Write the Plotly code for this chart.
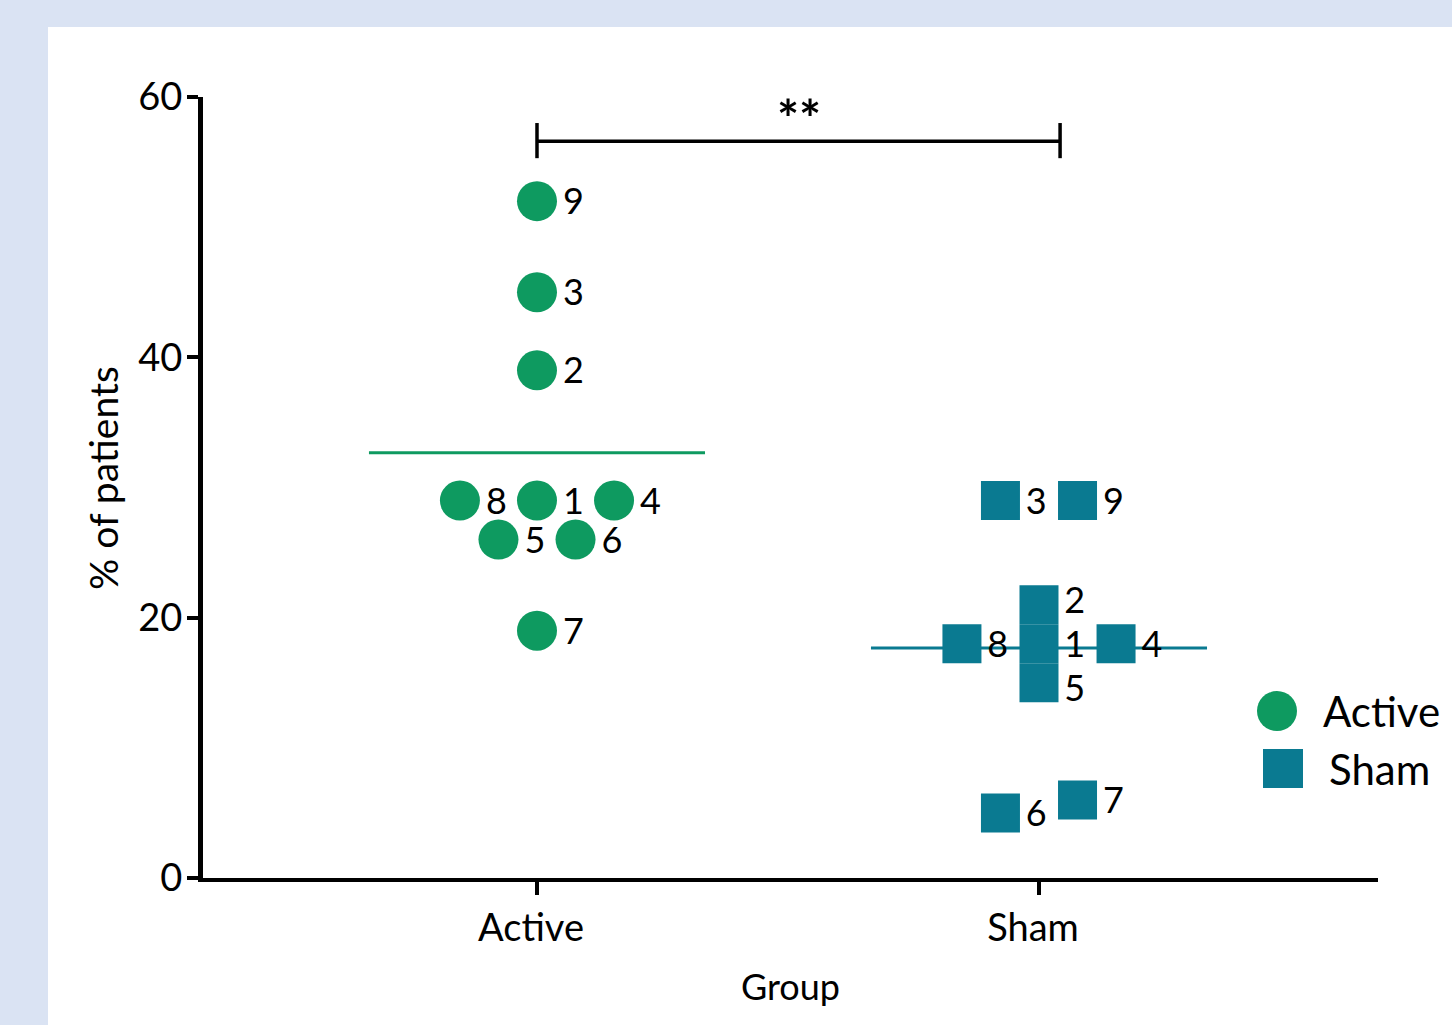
import plotly.graph_objects as go

# ---- data -------------------------------------------------------------
subject_ids = [1, 2, 3, 4, 5, 6, 7, 8, 9]
active_pct = [29, 39, 45, 29, 26, 26, 19, 29, 52]
sham_pct = [18, 21, 29, 18, 15, 5, 6, 18, 29]
group_names = ["Active", "Sham"]
y_ticks = [0, 20, 40, 60]
significance = "**"

# ---- style -------------------------------------------------------------
GREEN = "#0E9A60"
TEAL = "#0A7A91"
FONT = "Lato"
W, H = 1452, 1025
M_L, M_R, M_T, M_B = 203, 74, 97, 147
X_RANGE = [-0.6653, 1.6753]
STEP = 0.1535          # horizontal spacing between swarmed points
MEAN_HALF = 0.3347     # half width of the mean bar
PX_PER_UNIT = (H - M_T - M_B) / 60.0
LABEL_GAP = 44 / PX_PER_UNIT     # minimum vertical spacing of labels in one column
LABEL_DROP = 4 / PX_PER_UNIT     # optical centring of digits against markers


def swarm_offsets(values, ids, tol=1.5, step=STEP):
    """Fan out near-equal values: first centred, then right, then left..."""
    order = sorted(range(len(values)), key=lambda i: (values[i], ids[i]))
    bins = []
    for i in order:
        if bins and values[i] - values[bins[-1][0]] < tol:
            bins[-1].append(i)
        else:
            bins.append([i])
    offs = [0.0] * len(values)
    for b in bins:
        b = sorted(b, key=lambda i: ids[i])
        n = len(b)
        if n % 2:
            slots, k = [0.0], 1.0
            while len(slots) < n:
                slots += [k, -k]
                k += 1
        else:
            slots, k = [], 0.5
            while len(slots) < n:
                slots += [-k, k]
                k += 1
        for i, s in zip(b, slots[:n]):
            offs[i] = s * step
    return offs


def label_positions(values, offs, gap=LABEL_GAP):
    """Spread labels that share a column so they don't collide."""
    ys = [v - LABEL_DROP for v in values]
    cols = {}
    for i, o in enumerate(offs):
        cols.setdefault(round(o, 6), []).append(i)
    for idx in cols.values():
        idx.sort(key=lambda i: ys[i])
        for _ in range(50):
            moved = False
            for a, b in zip(idx, idx[1:]):
                d = ys[b] - ys[a]
                if d < gap - 1e-9:
                    push = (gap - d) / 2
                    ys[a] -= push
                    ys[b] += push
                    moved = True
            if not moved:
                break
    return ys


def px_x(p):
    return (p - M_L) / (W - M_L - M_R)


def px_y(p):
    return (H - M_B - p) / (H - M_T - M_B)


fig = go.Figure()

series = [
    (group_names[0], active_pct, GREEN, "circle", 40),
    (group_names[1], sham_pct, TEAL, "square", 39),
]
for gi, (name, vals, col, sym, size) in enumerate(series):
    offs = swarm_offsets(vals, subject_ids)
    xs = [gi + o for o in offs]
    mean = sum(vals) / len(vals)
    fig.add_trace(go.Scatter(
        x=[gi - MEAN_HALF, gi + MEAN_HALF], y=[mean, mean], mode="lines",
        line=dict(color=col, width=3), showlegend=False, hoverinfo="skip"))
    fig.add_trace(go.Scatter(
        x=xs, y=vals, mode="markers", name=name,
        marker=dict(symbol=sym, size=size, color=col, line=dict(width=0)),
        customdata=subject_ids, hovertemplate="Subject %{customdata}: %{y}%<extra>" + name + "</extra>",
        showlegend=False))
    # subject numbers beside each marker
    fig.add_trace(go.Scatter(
        x=xs, y=label_positions(vals, offs), mode="markers+text",
        marker=dict(symbol=sym, size=size, opacity=0),
        text=[str(s) for s in subject_ids], textposition="middle right",
        textfont=dict(family=FONT, size=36, color="black"),
        showlegend=False, hoverinfo="skip"))

shapes = []
# white panel on the light-blue page
shapes.append(dict(type="rect", xref="paper", yref="paper",
                   x0=px_x(48), x1=px_x(W + 20), y0=px_y(H + 20), y1=px_y(27),
                   fillcolor="white", line=dict(width=0), layer="below"))
# significance bracket
br_x1 = 1.042
shapes.append(dict(type="line", xref="x", yref="y", x0=0, x1=br_x1, y0=56.6, y1=56.6,
                   line=dict(color="black", width=3.5)))
for bx in (0, br_x1):
    shapes.append(dict(type="line", xref="x", yref="y", x0=bx, x1=bx, y0=55.3, y1=58.0,
                       line=dict(color="black", width=3.5)))
# legend symbols
shapes.append(dict(type="circle", xref="paper", yref="paper",
                   x0=px_x(1257), x1=px_x(1297), y0=px_y(731), y1=px_y(691),
                   fillcolor=GREEN, line=dict(width=0)))
shapes.append(dict(type="rect", xref="paper", yref="paper",
                   x0=px_x(1263), x1=px_x(1303), y0=px_y(788), y1=px_y(749),
                   fillcolor=TEAL, line=dict(width=0)))

annotations = [
    dict(x=br_x1 / 2, y=58.4, xref="x", yref="y", text="<b>" + significance + "</b>",
         showarrow=False, font=dict(family=FONT, size=52, color="black"), yanchor="middle"),
    dict(x=px_x(1321), y=px_y(711), xref="paper", yref="paper", text=group_names[0],
         showarrow=False, xanchor="left", yanchor="middle",
         font=dict(family=FONT, size=42, color="black")),
    dict(x=px_x(1327), y=px_y(769), xref="paper", yref="paper", text=group_names[1],
         showarrow=False, xanchor="left", yanchor="middle",
         font=dict(family=FONT, size=42, color="black")),
    dict(x=px_x(103), y=px_y(478), xref="paper", yref="paper", text="% of patients",
         showarrow=False, textangle=-90, xanchor="center", yanchor="middle",
         font=dict(family=FONT, size=39, color="black")),
]

fig.update_layout(
    width=W, height=H,
    margin=dict(l=M_L, r=M_R, t=M_T, b=M_B, pad=0),
    paper_bgcolor="#DAE3F3", plot_bgcolor="rgba(0,0,0,0)",
    showlegend=False, shapes=shapes, annotations=annotations,
    font=dict(family=FONT, color="black"),
)
fig.update_xaxes(
    range=X_RANGE, tickvals=[0, 1], ticktext=group_names,
    showgrid=False, zeroline=False, showline=True, linecolor="black", linewidth=4,
    ticks="outside", ticklen=13, tickwidth=4, tickcolor="black",
    ticklabelshift=-6,
    tickfont=dict(family=FONT, size=38, color="black"),
    title=dict(text="Group", font=dict(family=FONT, size=36, color="black"), standoff=28),
)
fig.update_yaxes(
    range=[0, 60], tickvals=y_ticks,
    showgrid=False, zeroline=False, showline=True, linecolor="black", linewidth=5,
    ticks="outside", ticklen=11, tickwidth=4, tickcolor="black",
    ticklabelstandoff=-3,
    tickfont=dict(family=FONT, size=38, color="black"),
)

fig.write_html("out.html")
